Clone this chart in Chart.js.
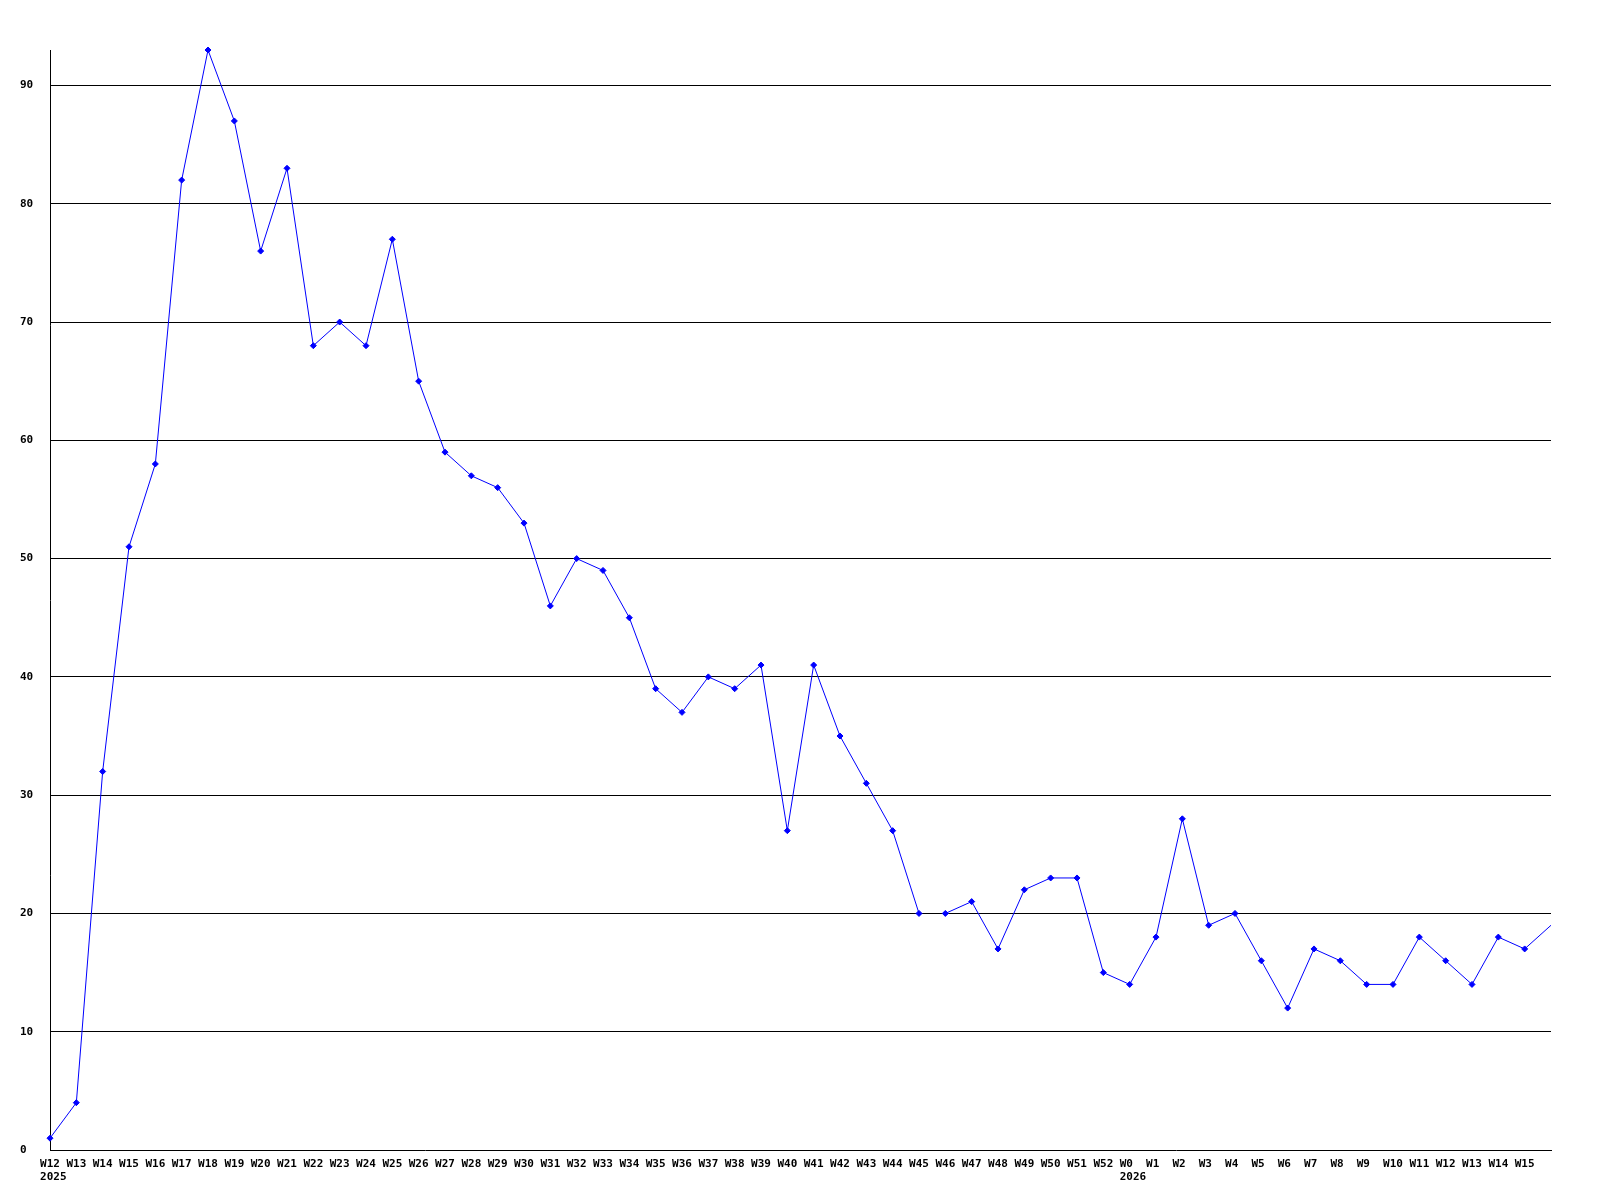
<!DOCTYPE html>
<html>
<head>
<meta charset="utf-8">
<script src="https://cdn.jsdelivr.net/npm/chart.js@4/dist/chart.umd.min.js"></script>
<style>
  html, body { margin: 0; padding: 0; background: #ffffff; }
  #wrap { width: 1600px; height: 1200px; }
</style>
</head>
<body>
<div id="wrap"><canvas id="c" width="1600" height="1200"></canvas></div>
<script>
// Week labels (last category W16 is at the right edge, its label hidden)
const weeks = [
  'W12','W13','W14','W15','W16','W17','W18','W19','W20','W21','W22','W23','W24','W25','W26',
  'W27','W28','W29','W30','W31','W32','W33','W34','W35','W36','W37','W38','W39','W40','W41',
  'W42','W43','W44','W45','W46','W47','W48','W49','W50','W51','W52',
  'W0','W1','W2','W3','W4','W5','W6','W7','W8','W9','W10','W11','W12','W13','W14','W15','W16'
];
const values = [
  1, 4, 32, 51, 58, 82, 93, 87, 76, 83, 68, 70, 68, 77, 65,
  59, 57, 56, 53, 46, 50, 49, 45, 39, 37, 40, 39, 41, 27, 41,
  35, 31, 27, 20, 20, 21, 17, 22, 23, 23, 15,
  14, 18, 28, 19, 20, 16, 12, 17, 16, 14, 14, 18, 16, 14, 18, 17, 19
];
// Year markers shown under the first week of each year
const yearLabels = { 0: '2025', 41: '2026' };
// Segments not drawn (gap after this index)
const gapAfter = [33];
// Categories whose label is not shown
const hiddenLabels = [57];
const yTicks = [0, 10, 20, 30, 40, 50, 60, 70, 80, 90];

const FONT = { family: '"DejaVu Sans Mono", monospace', size: 11, weight: 'bold' };

const yearPlugin = {
  id: 'years',
  afterDraw(chart) {
    const ctx = chart.ctx;
    const xs = chart.scales.x;
    ctx.save();
    ctx.font = 'bold 11px "DejaVu Sans Mono", monospace';
    ctx.fillStyle = '#000';
    ctx.textAlign = 'left';
    ctx.textBaseline = 'middle';
    for (const k of Object.keys(yearLabels)) {
      const i = +k;
      const px = xs.getPixelForValue(i);
      const w = ctx.measureText(weeks[i].padEnd(3)).width;
      ctx.fillText(yearLabels[k], px - w / 2, 1177);
    }
    ctx.restore();
  }
};

const bgPlugin = {
  id: 'bg',
  beforeDraw(chart) {
    const ctx = chart.ctx;
    ctx.save();
    ctx.fillStyle = '#fff';
    ctx.fillRect(0, 0, chart.width, chart.height);
    ctx.restore();
  }
};

new Chart(document.getElementById('c'), {
  type: 'line',
  data: {
    labels: weeks,
    datasets: [{
      data: values,
      borderColor: '#0000ff',
      backgroundColor: '#0000ff',
      borderWidth: 1,
      pointStyle: 'rectRot',
      pointRadius: (ctx) => hiddenLabels.includes(ctx.dataIndex) ? 0 : 3,
      pointBorderWidth: 1,
      pointBorderColor: '#0000ff',
      pointBackgroundColor: '#0000ff',
      tension: 0,
      fill: false,
      clip: { left: 6, top: 6, right: 0, bottom: 6 },
      segment: {
        borderColor: (ctx) => gapAfter.includes(ctx.p0DataIndex) ? 'rgba(0,0,0,0)' : '#0000ff'
      }
    }]
  },
  options: {
    responsive: false,
    animation: false,
    devicePixelRatio: 1,
    layout: { padding: { left: 20, top: 50, right: 49, bottom: 0 } },
    plugins: {
      legend: { display: false },
      tooltip: { enabled: false },
      title: { display: false }
    },
    scales: {
      x: {
        type: 'category',
        offset: false,
        grid: { display: false, drawTicks: false },
        border: { display: true, color: '#000', width: 1 },
        ticks: {
          autoSkip: false,
          maxRotation: 0,
          minRotation: 0,
          padding: 8,
          color: '#000',
          font: FONT,
          callback: (v, i) => hiddenLabels.includes(i) ? '' : weeks[i].padEnd(3)
        },
        afterFit: (s) => { s.height = 50; }
      },
      y: {
        min: 0,
        max: 93,
        grid: {
          color: (ctx) => (ctx.tick && ctx.tick.value === 0) ? 'rgba(0,0,0,0)' : '#000',
          lineWidth: 1,
          drawTicks: false
        },
        border: { display: true, color: '#000', width: 1 },
        ticks: {
          stepSize: 10,
          color: '#000',
          font: FONT,
          crossAlign: 'far',
          padding: 4
        },
        afterBuildTicks: (s) => { s.ticks = yTicks.map(v => ({ value: v })); },
        afterFit: (s) => { s.width = 30; }
      }
    }
  },
  plugins: [bgPlugin, yearPlugin]
});
</script>
</body>
</html>
